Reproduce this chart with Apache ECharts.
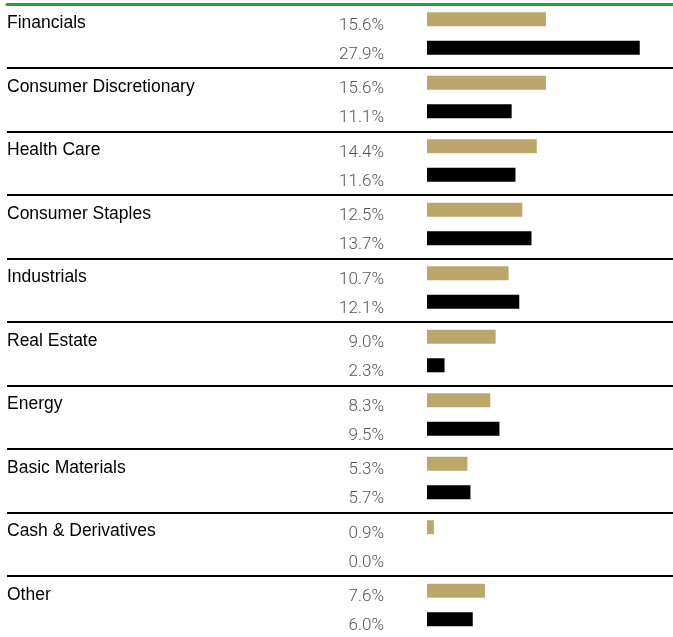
<!DOCTYPE html>
<html>
<head>
<meta charset="utf-8">
<script src="https://cdn.jsdelivr.net/npm/echarts@6/dist/echarts.min.js"></script>
<style>
  html, body { margin: 0; padding: 0; background: #fff; overflow: hidden; }
  #main { width: 673px; height: 642px; }
</style>
</head>
<body>
<div id="main"></div>
<script>
// sector names, top to bottom
const categories = ['Financials', 'Consumer Discretionary', 'Health Care', 'Consumer Staples', 'Industrials',
  'Real Estate', 'Energy', 'Basic Materials', 'Cash & Derivatives', 'Other']
// gold bars (fund)
const fundValues = [15.6, 15.6, 14.4, 12.5, 10.7, 9.0, 8.3, 5.3, 0.9, 7.6]
// black bars (benchmark)
const benchValues = [27.9, 11.1, 11.6, 13.7, 12.1, 2.3, 9.5, 5.7, 0.0, 6.0]

const chart = echarts.init(document.getElementById('main'), null, { renderer: 'canvas' })

const valueLabel = {
  show: true,
  position: 'left',
  distance: 43,
  // text sits a little below the bar centre
  offset: [0, 6.5],
  color: '#555555',
  fontFamily: 'Roboto',
  fontWeight: 300,
  fontSize: 17,
  formatter: (p) => p.value.toFixed(1) + '%',
}

const option = {
  backgroundColor: '#ffffff',
  animation: false,
  grid: [
    // rows + separators
    { left: 7, right: 0, top: 4.5, height: 635, containLabel: false },
    // bars
    { left: 427, width: 244, top: 1.75, height: 635, containLabel: false },
  ],
  xAxis: [
    {
      gridIndex: 0,
      type: 'value',
      position: 'top',
      z: 5,
      axisLine: { show: true, onZero: false, lineStyle: { color: '#1ba53c', width: 3 } },
      axisTick: { show: false },
      axisLabel: { show: false },
      splitLine: { show: false },
    },
    {
      gridIndex: 1,
      type: 'value',
      min: 0,
      max: 32,
      show: false,
    },
  ],
  yAxis: [
    {
      gridIndex: 0,
      type: 'category',
      inverse: true,
      data: categories,
      axisLine: { show: false },
      axisTick: { show: false },
      splitLine: { show: true, lineStyle: { color: '#000000', width: 2 } },
      axisLabel: {
        inside: true,
        margin: 0,
        align: 'left',
        verticalAlign: 'bottom',
        lineHeight: 26,
        color: '#000000',
        fontFamily: 'Liberation Sans',
        fontSize: 17.5,
      },
    },
    {
      gridIndex: 1,
      type: 'category',
      inverse: true,
      data: categories,
      show: false,
    },
  ],
  series: [
    {
      name: 'Fund',
      type: 'bar',
      xAxisIndex: 1,
      yAxisIndex: 1,
      data: fundValues,
      barWidth: 14,
      barGap: '104%',
      itemStyle: { color: '#bba76b' },
      label: valueLabel,
    },
    {
      name: 'Benchmark',
      type: 'bar',
      xAxisIndex: 1,
      yAxisIndex: 1,
      data: benchValues,
      barWidth: 14,
      barGap: '104%',
      itemStyle: { color: '#000000' },
      label: valueLabel,
    },
  ],
}

chart.setOption(option)
</script>
</body>
</html>
